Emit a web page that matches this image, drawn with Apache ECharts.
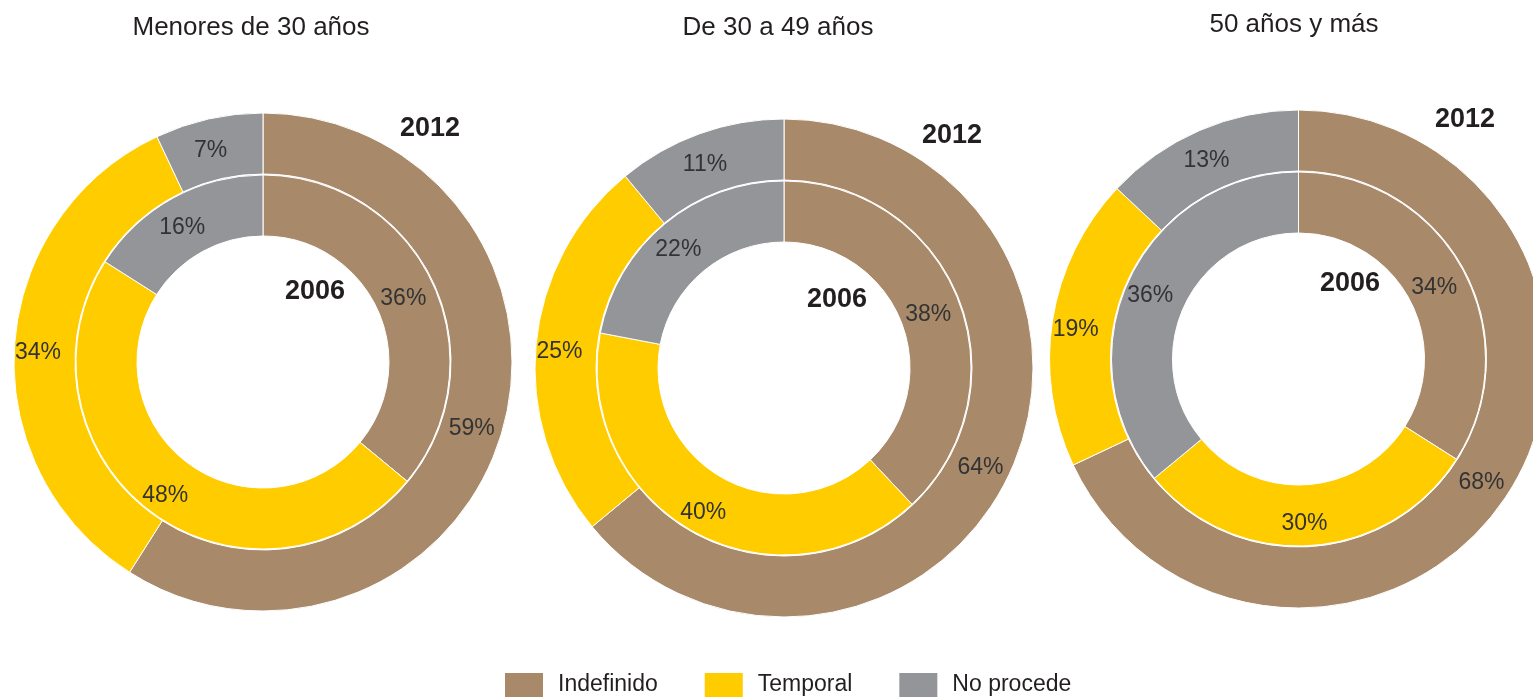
<!DOCTYPE html>
<html>
<head>
<meta charset="utf-8">
<script src="https://cdn.jsdelivr.net/npm/echarts@6/dist/echarts.min.js"></script>
<style>
  html, body { margin: 0; padding: 0; background: #fff; }
  #chart { width: 1533px; height: 698px; }
</style>
</head>
<body>
<div id="chart"></div>
<script>
// Contract types by age group, 2006 (inner ring) and 2012 (outer ring), in %
const categories = ['Indefinido', 'Temporal', 'No procede'];
const groupTitles = ['Menores de 30 años', 'De 30 a 49 años', '50 años y más'];
const yearOuter = '2012';
const yearInner = '2006';

const menores30_2012 = [59, 34, 7];
const menores30_2006 = [36, 48, 16];
const de30a49_2012 = [64, 25, 11];
const de30a49_2006 = [38, 40, 22];
const de50ymas_2012 = [68, 19, 13];
const de50ymas_2006 = [34, 30, 36];

const colors = ['#A88A6A', '#FFCC00', '#939598'];
const font = '"Liberation Sans", Arial, sans-serif';

// Layout of each donut pair: centre, title and year-label positions
const layout = [
  { center: [263, 362], title: [251, 28], outerLbl: [430, 129], innerLbl: [315, 292] },
  { center: [784, 368], title: [778, 28], outerLbl: [952, 136], innerLbl: [837, 300] },
  { center: [1298.5, 359], title: [1294, 25], outerLbl: [1465, 120], innerLbl: [1350, 284] }
];
const seriesData = [
  [menores30_2012, menores30_2006],
  [de30a49_2012, de30a49_2006],
  [de50ymas_2012, de50ymas_2006]
];

function ring(values, center, radius, name) {
  return {
    type: 'pie',
    name: name,
    center: center,
    radius: radius,
    startAngle: 90,
    clockwise: true,
    silent: true,
    avoidLabelOverlap: false,
    label: {
      show: true,
      position: 'inside',
      formatter: '{c}%',
      color: '#333',
      fontFamily: font,
      fontSize: 23,
      offset: [-4, 5]
    },
    labelLine: { show: false },
    itemStyle: { borderColor: '#fff', borderWidth: 1 },
    data: categories.map((c, i) => ({ name: c, value: values[i], itemStyle: { color: colors[i] } }))
  };
}

const series = [];
const graphics = [];
layout.forEach((L, g) => {
  series.push(ring(seriesData[g][0], L.center, [188, 249], groupTitles[g] + ' ' + yearOuter));
  series.push(ring(seriesData[g][1], L.center, [126, 187], groupTitles[g] + ' ' + yearInner));
  graphics.push({
    type: 'text', x: L.title[0], y: L.title[1],
    style: { text: groupTitles[g], fill: '#231f20', font: '26px ' + font, textAlign: 'center', textVerticalAlign: 'middle' }
  });
  graphics.push({
    type: 'text', x: L.outerLbl[0], y: L.outerLbl[1],
    style: { text: yearOuter, fill: '#231f20', font: 'bold 27px ' + font, textAlign: 'center', textVerticalAlign: 'middle' }
  });
  graphics.push({
    type: 'text', x: L.innerLbl[0], y: L.innerLbl[1],
    style: { text: yearInner, fill: '#231f20', font: 'bold 27px ' + font, textAlign: 'center', textVerticalAlign: 'middle' }
  });
});

const chart = echarts.init(document.getElementById('chart'));
chart.setOption({
  animation: false,
  backgroundColor: '#fff',
  legend: {
    data: categories,
    left: 503,
    top: 671,
    padding: 0,
    orient: 'horizontal',
    icon: 'rect',
    itemWidth: 40,
    itemHeight: 26,
    itemGap: 45,
    selectedMode: false,
    textStyle: { color: '#231f20', fontFamily: font, fontSize: 23, padding: [0, 0, 0, 9] }
  },
  graphic: graphics,
  series: series
});
</script>
</body>
</html>
